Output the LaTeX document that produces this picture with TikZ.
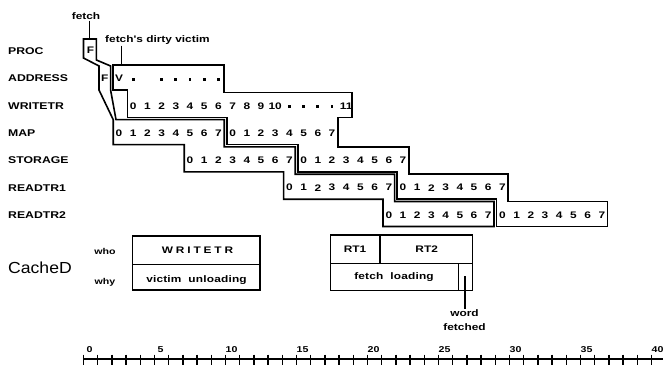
\documentclass[tikz,border=0pt]{standalone}
\usepackage{fontspec}
\setmainfont{Liberation Sans}
\newfontfamily\wf[FakeStretch=1.25]{Liberation Sans}
\newfontfamily\cdf[FakeStretch=1.1]{Liberation Sans}
\newcommand\tx[1]{83.5+14.2*(#1)}
\newcommand\octet[3]{%
  \foreach \d [count=\i from 0] in {0,1,2,3,4,5,6,7}
    {\node[dig] (#1\i) at ({\tx{#3+\i+0.5}},#2) {\d};}}
\begin{document}
\begin{tikzpicture}[x=1pt,y=-1pt,
  outl/.style={line width=1.6pt,line join=miter},
  thinl/.style={line width=1.4pt},
  rowlbl/.style={font=\wf\bfseries\fontsize{9.8}{10}\selectfont,anchor=west,inner sep=0pt},
  dig/.style={font=\wf\bfseries\fontsize{9.5}{10}\selectfont,inner sep=0pt},
  ann/.style={font=\wf\bfseries\fontsize{9.5}{10}\selectfont,inner sep=1pt},
  boxtxt/.style={font=\wf\bfseries\fontsize{9.5}{10}\selectfont,inner sep=0pt},
  axl/.style={font=\wf\bfseries\fontsize{8.5}{9}\selectfont,inner sep=0pt},
  dotm/.style={rectangle,fill,inner sep=0pt,minimum size=2.8pt}]
\useasboundingbox (0,0) rectangle (664,370);

% row labels
\node[rowlbl] (lproc) at (8,51) {PROC};
\node[rowlbl] (laddr) at (8,78.5) {ADDRESS};
\node[rowlbl] (lwtr) at (8,105.8) {WRITETR};
\node[rowlbl] (lmap) at (8,133.1) {MAP};
\node[rowlbl] (lsto) at (8,160.4) {STORAGE};
\node[rowlbl] (lrt1) at (8,187.7) {READTR1};
\node[rowlbl] (lrt2) at (8,215) {READTR2};

% fetch outline
\draw[outl] (83.5,39) -- (96.4,39) -- (96.4,60) -- (110.6,66) -- (110.6,90) -- (116,119.6)
  -- (224.2,119.6) -- (224.2,146.9) -- (295.2,146.9) -- (295.2,174.2) -- (394.6,174.2)
  -- (394.6,201.5) -- (494,201.5) -- (494,226.5) -- (383,226.5) -- (383,199.2)
  -- (283.6,199.2) -- (283.6,171.9) -- (184.2,171.9) -- (184.2,144.6) -- (113.2,144.6)
  -- (113.2,119.6) -- (99,90) -- (99,66) -- (83.5,58) -- cycle;

% victim outline
\draw[outl] (113.2,65) -- (224.2,65) -- (224.2,92.3) -- (352,92.3) -- (352,117.3)
  -- (337.8,117.3) -- (337.8,146.9) -- (408.8,146.9) -- (408.8,174.2) -- (508.2,174.2)
  -- (508.2,201.5) -- (607.6,201.5) -- (607.6,226.5) -- (496.6,226.5) -- (496.6,199.2)
  -- (397.2,199.2) -- (397.2,171.9) -- (297.8,171.9) -- (297.8,144.6) -- (226.8,144.6)
  -- (226.8,117.3) -- (127.4,117.3) -- (127.4,90) -- (113.2,90) -- cycle;

% PROC / ADDRESS contents
\node[dig] (pf) at ({\tx{0.5}},50) {F};
\node[dig] (af) at ({\tx{1.5}},78.5) {F};
\node[dig] (av) at ({\tx{2.5}},78.5) {V};
\foreach \s in {3,5,6,7,8,9} \node[dotm] (ad\s) at ({\tx{\s+0.5}},79.3) {};

% WRITETR contents
\foreach \d [count=\i from 0] in {0,...,10} \node[dig] (wt\i) at ({\tx{3+\i+0.5}},105.8) {\d};
\foreach \s in {14,...,17} \node[dotm] (wd\s) at ({\tx{\s+0.5}},106.6) {};
\node[dig] (wt11) at ({\tx{18.5}},105.8) {11};

% word groups
\octet{ma}{133.1}{2}
\octet{mb}{133.1}{10}
\octet{sa}{160.4}{7}
\octet{sb}{160.4}{15}
\octet{ra}{187.7}{14}
\octet{rb}{187.7}{22}
\octet{qa}{215}{21}
\octet{qb}{215}{29}

% annotations
\node[ann] (fetchlbl) at (86,16) {fetch};
\coordinate (pftop) at (89.3,39);
\draw[thinl] (fetchlbl.south -| pftop) -- (pftop);
\node[ann,anchor=west] (vlbl) at (104,40) {fetch's dirty victim};
\coordinate (vtop) at (121.7,65);
\draw[thinl] (vlbl.south -| vtop) -- (vtop);

% CacheD
\node[font=\cdf\fontsize{16}{18}\selectfont,anchor=west,inner sep=0pt] (cached) at (8,268) {CacheD};
\node[font=\wf\bfseries\fontsize{8.5}{9}\selectfont,inner sep=0pt] (who) at (105,251) {who};
\node[font=\wf\bfseries\fontsize{8.5}{9}\selectfont,inner sep=0pt] (why) at (105,282) {why};
\draw[thinl] (132.3,236) rectangle (260,290);
\draw[thinl] (132.3,264.3) -- (260,264.3);
\node[boxtxt,font=\wf\bfseries\fontsize{9.5}{10}\selectfont\addfontfeature{LetterSpace=30}] (wbox) at (197.5,250.5) {WRITETR};
\node[boxtxt,font=\wf\bfseries\fontsize{9.5}{10}\selectfont\addfontfeature{LetterSpace=2}] (vu) at (196.5,280) {victim\ \ unloading};

\draw[thinl] (330.7,235) rectangle (472.7,290.5);
\draw[thinl] (330.7,263.5) -- (472.7,263.5);
\draw[thinl] (380,235) -- (380,263.5);
\draw[thinl] (458.3,263.5) -- (458.3,290.5);
\node[boxtxt] (rt1) at (355,249.5) {RT1};
\node[boxtxt] (rt2) at (426.7,249.5) {RT2};
\node[boxtxt,font=\wf\bfseries\fontsize{9.5}{10}\selectfont\addfontfeature{LetterSpace=2}] (fl) at (394,277.5) {fetch\ \ loading};
\coordinate (wtop) at (465,276);
\node[boxtxt,inner sep=1pt] (word) at (464.5,313.5) {word};
\node[boxtxt,inner sep=1pt] (fetched) at (464.5,327) {fetched};
\draw[thinl] (wtop) -- (wtop |- word.north);

% time axis
\draw[line width=1.7pt] (82.8,359.3) -- (663,359.3);
\foreach \k in {0,...,40} \draw[line width=1.4pt] ({\tx{\k}},354.5) -- ({\tx{\k}},365);
\foreach \k in {0,5,...,40} \node[axl] (ax\k) at ({\tx{\k}+6},349.5) {\k};
\end{tikzpicture}
\end{document}
